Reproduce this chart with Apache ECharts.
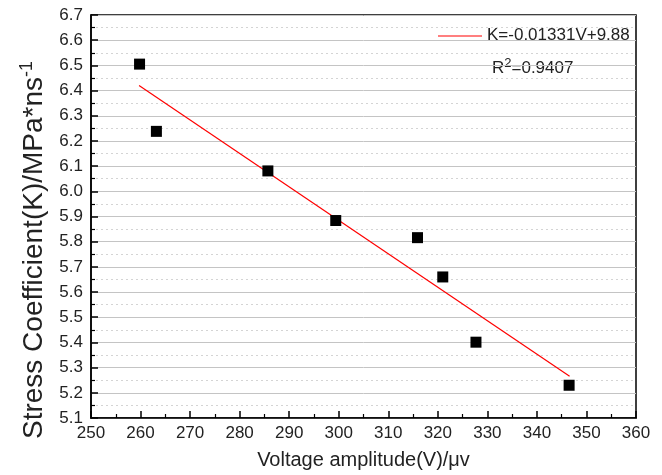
<!DOCTYPE html>
<html>
<head>
<meta charset="utf-8">
<script src="https://cdn.jsdelivr.net/npm/echarts@6/dist/echarts.min.js"></script>
<style>html,body{margin:0;padding:0;background:#fff}#c{width:662px;height:475px}</style>
</head>
<body>
<div id="c"></div>
<script>
// Data
const voltage = [259.8, 263.2, 285.7, 299.4, 315.9, 321.0, 327.7, 346.5];
const stressK = [6.505, 6.238, 6.081, 5.884, 5.816, 5.660, 5.401, 5.230];
const fitX = [259.7, 346.6];
const fitY = [6.420, 5.266];
const fitLabel = 'K=-0.01331V+9.88';
const r2Label = '0.9407';
const xTitle = 'Voltage amplitude(V)/μv';
const yTitle = 'Stress Coefficient(K)/MPa*ns';
const yTitleSup = '-1';

const font = 'Arial, "Liberation Sans", sans-serif';
const chart = echarts.init(document.getElementById('c'));
chart.setOption({
  animation: false,
  backgroundColor: '#fff',
  grid: { left: 91, right: 26, top: 15, bottom: 54, show: true, borderColor: '#000', borderWidth: 1.5, backgroundColor: 'transparent' },
  graphic: [
    { type: 'line', shape: { x1: 438, y1: 36, x2: 482, y2: 36 }, style: { stroke: '#ff0000', lineWidth: 1.2 } },
    { type: 'text', left: 487, top: 27, style: { text: fitLabel, font: '17px ' + font, fill: '#222' } },
    {
      type: 'text', left: 492, top: 57,
      style: {
        text: 'R{sup|2}=' + r2Label,
        font: '17px ' + font, fill: '#222',
        rich: { sup: { fontSize: 13, fontFamily: font, verticalAlign: 'top', padding: [0, 0, 9, 0], fill: '#222' } }
      }
    },
    {
      type: 'text', x: 34, y: 250, rotation: Math.PI / 2,
      style: {
        text: yTitle + '{sup|' + yTitleSup + '}',
        font: '28px ' + font, fill: '#222', align: 'center', verticalAlign: 'middle',
        rich: { sup: { fontSize: 18, fontFamily: font, fill: '#222', verticalAlign: 'top', padding: [0, 0, 14, 0] } }
      }
    }
  ],
  xAxis: {
    type: 'value', min: 250, max: 360, interval: 10,
    name: xTitle, nameLocation: 'middle', nameGap: 32,
    nameTextStyle: { fontFamily: font, fontSize: 20, color: '#222' },
    axisLine: { lineStyle: { color: '#000', width: 1.5 } },
    axisTick: { inside: true, length: 7, lineStyle: { color: '#000', width: 1.5 } },
    minorTick: { show: true, splitNumber: 2, length: 4, lineStyle: { color: '#000', width: 1.2 } },
    axisLabel: { fontFamily: font, fontSize: 17, color: '#222', margin: 7 },
    splitLine: { show: false }
  },
  yAxis: {
    type: 'value', min: 5.1, max: 6.7, interval: 0.1,
    axisLine: { lineStyle: { color: '#000', width: 1.5 } },
    axisTick: { inside: true, length: 7, lineStyle: { color: '#000', width: 1.5 } },
    minorTick: { show: true, splitNumber: 2, length: 4, lineStyle: { color: '#000', width: 1.2 } },
    axisLabel: { fontFamily: font, fontSize: 17, color: '#222', margin: 8, formatter: v => v.toFixed(1) },
    splitLine: { show: true, lineStyle: { color: '#c4c4c4', width: 1 } },
    minorSplitLine: { show: true, lineStyle: { color: '#d4d4d4', width: 1, type: [2, 3] } }
  },
  series: [
    {
      name: fitLabel, type: 'line', showSymbol: false, symbol: 'none',
      data: fitX.map((x, i) => [x, fitY[i]]),
      lineStyle: { color: '#ff0000', width: 1.2 }, itemStyle: { color: '#ff0000' }
    },
    {
      name: 'data', type: 'scatter', symbol: 'rect', symbolSize: 11,
      data: voltage.map((x, i) => [x, stressK[i]]),
      itemStyle: { color: '#000', opacity: 1 }, z: 5
    }
  ]
});
</script>
</body>
</html>
